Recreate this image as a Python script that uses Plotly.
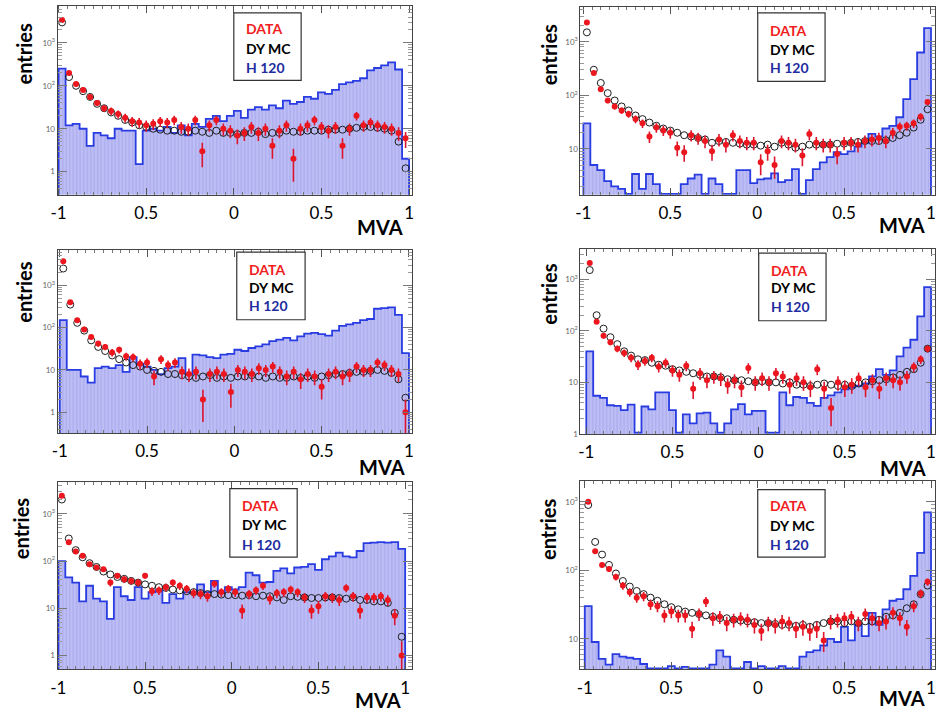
import numpy as np
import plotly.graph_objects as go

# MVA binning: 50 bins from -1 to 1
EDGES = np.linspace(-1.0, 1.0, 51)
CENTERS = 0.5 * (EDGES[:-1] + EDGES[1:])
BIN_W = EDGES[1] - EDGES[0]

X_TICKS = [-1, -0.5, 0, 0.5, 1]
X_TICK_TEXT = ["-1", "0.5", "0", "0.5", "1"]
Y_TICKS = [1, 10, 100, 1000]
Y_TICK_TEXT = ["1", "10", "10<sup>2</sup>", "10<sup>3</sup>"]
LEGEND_TEXT = ["DATA", "DY MC", "H 120"]

# ---- panel 1 ----
p1_h120 = [250, 12, 13, 10, 4, 8, 7, 6, 10, 9, 9, 1.5, 9, 10, 9, 11, 8, 12, 7, 13,
           11, 17, 20, 15, 20, 26, 18, 28, 32, 28, 35, 30, 45, 38, 42, 55, 50, 70, 65, 80,
           110, 120, 130, 150, 230, 260, 300, 350, 240, 2]
p1_data = [3400, 200, 110, 80, 55, 40, 30, 26, 22, 18, 15, 14, 12, 13, 15, 14, 16, 11, 10, 16,
           3, 12, 16, 10, 9, 7, 8, 11, 8, 10, 4, 9, 12, 2, 10, 12, 16, 11, 9, 11,
           4, 10, 20, 12, 14, 12, 11, 10, 8, 6]
p1_dymc = [3000, 160, 100, 75, 55, 38, 30, 24, 20, 16, 14, 12, 11, 10, 9.5, 9, 9, 8.5, 8.5, 9,
           8.5, 8, 9, 8, 8, 7.5, 8, 8, 8.5, 7.5, 8, 8, 9, 8.5, 8.5, 9, 9, 9, 9.5, 9.5,
           9.5, 10, 10.5, 11, 11, 10.5, 10, 9, 5, 1.2]

# ---- panel 2 ----
p2_h120 = [30, 5, 4, 2.5, 2, 1.8, 1.45, 3.4, 1.8, 3.4, 2.2, 1.45, 1.45, 1.45, 2.2, 2.8, 3.3, 1.45, 2.8, 2.2,
           1.45, 1.45, 4, 4, 2.3, 2.7, 2.8, 3.5, 2.4, 2.6, 4.2, 1.45, 2.6, 4.2, 5.6, 7, 8.7, 8, 9, 11,
           13, 19, 17, 24, 27, 39, 85, 200, 630, 1800]
p2_data = [2300, 260, 130, 80, 62, 52, 45, 36, 30, 17, 25, 22, 20, 10.5, 8.7, 18, 16, 14, 9, 15,
           12, 18, 14, 13, 13, 5.6, 9, 5, 14, 13, 12, 7.5, 19, 13, 12, 12, 8, 13, 13, 12,
           14, 15, 16, 14, 20, 26, 27, 30, 40, 75]
p2_dymc = [1500, 300, 170, 110, 80, 62, 52, 42, 36, 31, 27, 24, 22, 20, 18, 17, 16, 15, 13, 14,
           13.5, 13, 12.5, 12, 12, 11.5, 12, 11, 13, 12, 10.5, 11, 12, 12, 12, 12, 12.5, 12.5, 13, 13.5,
           14, 14, 14, 14.5, 16, 18, 20, 25, 35, 55]

# ---- panel 3 ----
p3_h120 = [150, 10, 10, 7, 5, 11, 12, 11, 13, 9, 20, 14, 12, 10, 8, 11, 12, 19, 8, 23,
           22, 20, 19, 23, 24, 30, 28, 33, 36, 40, 48, 52, 57, 50, 62, 72, 75, 70, 65, 85,
           110, 120, 130, 150, 160, 280, 290, 300, 200, 25]
p3_data = [3700, 400, 150, 90, 60, 42, 35, 26, 30, 21, 20, 14, 15, 7, 18, 13, 15, 9, 8, 9,
           2, 8, 9, 8, 3, 10, 9, 8, 11, 10, 12, 9, 7, 9, 6, 8, 7, 4, 8, 9,
           7, 8, 12, 10, 10, 15, 13, 10, 8, 1]
p3_dymc = [2500, 350, 130, 85, 50, 35, 28, 22, 18, 15, 13, 12, 10, 9.5, 9, 8, 8, 7.5, 7, 6.5,
           7, 7.5, 6.5, 7, 6.5, 7, 7, 7.5, 7, 6.5, 7, 6.5, 6.5, 7, 6.5, 7, 6.5, 7, 7.5, 8,
           8, 8.5, 9, 9, 9.5, 10, 9.5, 8.5, 6, 2.2]

# ---- panel 4 ----
p4_h120 = [40, 5.5, 5, 3.6, 3.5, 2.9, 3.7, 1.06, 3.4, 3.0, 6.4, 6.4, 2.9, 1.06, 2.4, 1.6, 2.5, 2.6, 1.6, 1.06,
           1.6, 3.0, 3.8, 2.4, 2.8, 2.8, 1.06, 1.06, 6.4, 3.6, 5.2, 5.0, 4.0, 3.5, 5.0, 5.6, 6.4, 7.3, 8, 8.6,
           9.5, 13, 18, 14, 17, 32, 47, 67, 190, 700]
p4_data = [2050, 150, 80, 60, 45, 37, 30, 22, 26, 30, 20, 24, 17, 14, 21, 7.5, 15, 11, 13, 12,
           9, 11, 8, 19, 10, 12, 10, 15, 13, 9, 12, 10, 8, 18, 7.5, 3.2, 10, 8, 9, 12,
           8, 11, 7.5, 12, 11, 10, 13, 20, 28, 45]
p4_dymc = [1500, 200, 110, 75, 55, 40, 33, 28, 27, 24, 22, 21, 18, 17, 16, 15, 14, 13, 13, 12.5,
           11.5, 11, 11, 10.5, 10, 10.5, 10, 10, 9.5, 10, 9, 9, 8.5, 9, 9.5, 9, 8.5, 9, 8.5, 9.5,
           10, 10.5, 11, 11.5, 12.5, 14, 16, 18, 24, 45]

# ---- panel 5 ----
p5_h120 = [100, 45, 35, 14, 30, 16, 14, 6, 28, 18, 15, 28, 16, 22, 24, 13, 20, 16, 22, 21,
           32, 22, 38, 22, 28, 25, 28, 57, 50, 35, 36, 62, 70, 55, 73, 75, 86, 65, 109, 125,
           150, 125, 120, 163, 240, 245, 250, 245, 250, 180]
p5_data = [2400, 250, 160, 130, 86, 73, 67, 35, 49, 41, 38, 35, 49, 23, 24, 28, 35, 30, 26, 21,
           20, 18, 33, 22, 26, 22, 9, 20, 24, 30, 16, 21, 22, 25, 22, 17, 9, 11, 18, 17,
           15, 27, 18, 9, 17, 17, 18, 15, 7, 1]
p5_dymc = [2000, 300, 170, 120, 90, 75, 60, 52, 46, 42, 38, 35, 32, 30, 28, 27, 25, 24, 23, 22,
           21, 20, 20, 19.5, 19, 19, 18.5, 19, 18, 18.5, 18, 17, 15, 18, 17.5, 17, 16.5, 16.5, 17, 17,
           16.5, 16, 17, 15, 15, 14, 14, 13, 8, 2.5]

# ---- panel 6 ----
p6_h120 = [30, 9, 5.1, 4.2, 6.0, 5.5, 5.3, 5.1, 4.3, 3.7, 3.7, 3.7, 4.0, 3.7, 3.9, 3.7, 3.7, 3.7, 4.2, 6.8,
           5.5, 3.7, 3.7, 4.6, 3.7, 4.0, 3.7, 3.7, 4.0, 3.7, 3.7, 5.5, 6.4, 6.8, 8, 10, 9, 15, 9.5, 16,
           11, 24, 16, 27, 36, 38, 53, 83, 180, 700]
p6_data = [1000, 190, 120, 105, 80, 60, 48, 40, 42, 32, 30, 22, 25, 22, 22, 14, 23, 35, 20, 21,
           17, 19, 20, 19, 16, 13, 17, 16, 18, 17, 14, 15, 13, 14, 9.5, 18, 19, 20, 21, 17,
           23, 20, 17, 18, 24, 20, 15, 30, 46, 68]
p6_dymc = [900, 260, 170, 120, 90, 70, 58, 50, 45, 40, 36, 32, 29, 27, 25, 24, 23, 22, 21, 20,
           20, 19, 18.5, 18, 17.5, 17, 17, 16.5, 16, 16, 15.5, 16, 15, 16, 17, 18, 18, 17, 18, 17,
           18, 18, 19, 21, 22, 24, 28, 32, 45, 60]

W, H = 937, 715


def px(x):
    return x / W


def py(y):
    return 1 - y / H


# page layout of each pad (pixels) and axis ranges
PANELS = [
    dict(h=p1_h120, d=p1_data, m=p1_dymc, box=(51, 409, 6, 196), xr=(-1.006, 1.017), yr=(-0.535, 3.86),
         leg=(229, 297, 13, 81), tx=239, rows=(29, 49, 68), mva=(377, 229), ent=(17, 54)),
    dict(h=p2_h120, d=p2_data, m=p2_dymc, box=(579, 937, 7, 196), xr=(-1.017, 1.023), yr=(0.146, 3.65),
         leg=(758, 826, 13, 82), tx=768, rows=(31, 50, 68), mva=(904, 227), ent=(547, 55)),
    dict(h=p3_h120, d=p3_data, m=p3_dymc, box=(51, 409, 252, 436), xr=(-1.013, 1.018), yr=(-0.49, 3.83),
         leg=(232, 301, 254, 322), tx=242, rows=(271, 290, 308), mva=(379, 470), ent=(17, 294)),
    dict(h=p4_h120, d=p4_data, m=p4_dymc, box=(579, 937, 251, 437), xr=(-1.034, 1.023), yr=(0.0, 3.58),
         leg=(759, 827, 255, 323), tx=769, rows=(272, 290, 309), mva=(905, 471), ent=(547, 296)),
    dict(h=p5_h120, d=p5_data, m=p5_dymc, box=(51, 409, 485, 674), xr=(-1.005, 1.040), yr=(-0.29, 3.68),
         leg=(225, 293, 492, 561), tx=235, rows=(509, 528, 548), mva=(375, 705), ent=(14, 532)),
    dict(h=p6_h120, d=p6_data, m=p6_dymc, box=(579, 937, 484, 674), xr=(-1.025, 1.023), yr=(0.556, 3.31),
         leg=(758, 826, 493, 561), tx=768, rows=(509, 529, 548), mva=(904, 703), ent=(547, 533)),
]

FILL = "rgb(190,190,246)"
STRIPE = "rgb(150,150,228)"
BLUE = "rgb(40,60,225)"
RED = "rgb(236,22,30)"
RED_ERR = "rgb(220,20,45)"
LEG_COLORS = ["rgb(240,30,30)", "black", "rgb(30,45,160)"]
FONT = "Lato"

y_minor = [k * 10 ** e for e in range(-1, 4) for k in range(2, 10)]
x_minor = [round(v, 3) for v in np.arange(-1.0, 1.0001, 0.05)]

fig = go.Figure()
shapes, annotations = [], []
layout_axes = {}

for i, p in enumerate(PANELS, start=1):
    xa = "x" if i == 1 else f"x{i}"
    ya = "y" if i == 1 else f"y{i}"
    h = np.array(p["h"], dtype=float)
    d = np.array(p["d"], dtype=float)
    m = np.array(p["m"], dtype=float)
    floor = 10 ** (p["yr"][0] - 1)

    # H 120 signal: hatched fill plus step outline
    fig.add_trace(go.Bar(
        x=CENTERS, y=h, width=BIN_W, xaxis=xa, yaxis=ya,
        marker=dict(color=FILL, line=dict(width=0),
                    pattern=dict(shape="|", fgcolor=STRIPE, bgcolor=FILL, size=3.5, solidity=0.35)),
        hoverinfo="skip"))
    step_x = [EDGES[0]] + list(EDGES[:-1]) + [EDGES[-1], EDGES[-1]]
    step_y = [floor] + list(h) + [h[-1], floor]
    fig.add_trace(go.Scatter(
        x=step_x, y=step_y, mode="lines", xaxis=xa, yaxis=ya,
        line=dict(color=BLUE, width=1.8, shape="hv"), hoverinfo="skip"))

    # DY MC: open circles
    fig.add_trace(go.Scatter(
        x=CENTERS, y=m, mode="markers", xaxis=xa, yaxis=ya,
        marker=dict(symbol="circle-open", size=7, color="rgb(30,30,30)", line=dict(width=1))))

    # DATA: filled circles with Poisson errors
    err = np.sqrt(d)
    err_dn = np.minimum(err, 0.92 * d)
    fig.add_trace(go.Scatter(
        x=CENTERS, y=d, mode="markers", xaxis=xa, yaxis=ya,
        marker=dict(symbol="circle", size=6, color=RED),
        error_y=dict(type="data", array=err, arrayminus=err_dn, color=RED_ERR, thickness=1.6, width=0)))

    x0, x1, y0, y1 = p["box"]
    xkey = "xaxis" if i == 1 else f"xaxis{i}"
    ykey = "yaxis" if i == 1 else f"yaxis{i}"
    layout_axes[xkey] = dict(
        domain=[px(x0), px(x1)], range=list(p["xr"]), anchor=ya,
        tickmode="array", tickvals=X_TICKS, ticktext=X_TICK_TEXT,
        ticks="inside", ticklen=7, tickcolor="#555", tickwidth=1,
        minor=dict(tickmode="array", tickvals=x_minor, ticks="inside", ticklen=3, tickcolor="#777"),
        showline=True, linecolor="#444", linewidth=1, mirror="ticks",
        showgrid=False, zeroline=False,
        tickfont=dict(family=FONT, size=17, color="black"), ticklabelstandoff=3)
    layout_axes[ykey] = dict(
        domain=[py(y1), py(y0)], type="log", range=list(p["yr"]), anchor=xa,
        tickmode="array", tickvals=Y_TICKS, ticktext=Y_TICK_TEXT,
        ticks="inside", ticklen=9, tickcolor="#777", tickwidth=1,
        minor=dict(tickmode="array", tickvals=y_minor, ticks="inside", ticklen=4, tickcolor="#999"),
        showline=True, linecolor="#444", linewidth=1, mirror="ticks",
        showgrid=False, zeroline=False,
        tickfont=dict(family=FONT, size=8, color="#666"))

    # legend box
    lx0, lx1, ly0, ly1 = p["leg"]
    shapes.append(dict(type="rect", xref="paper", yref="paper",
                       x0=px(lx0), x1=px(lx1), y0=py(ly1), y1=py(ly0),
                       line=dict(color="#333", width=1.2), fillcolor="white", layer="above"))
    for txt, col, ry in zip(LEGEND_TEXT, LEG_COLORS, p["rows"]):
        annotations.append(dict(text=f"<b>{txt}</b>", xref="paper", yref="paper",
                                x=px(p["tx"]), y=py(ry), xanchor="left", yanchor="middle",
                                showarrow=False, font=dict(family=FONT, size=14, color=col)))

    annotations.append(dict(text="<b>MVA</b>", xref="paper", yref="paper",
                            x=px(p["mva"][0]), y=py(p["mva"][1]), xanchor="center", yanchor="middle",
                            showarrow=False, font=dict(family=FONT, size=20, color="black")))
    annotations.append(dict(text="<b>entries</b>", xref="paper", yref="paper",
                            x=px(p["ent"][0]), y=py(p["ent"][1]), xanchor="center", yanchor="middle",
                            textangle=-90, showarrow=False, font=dict(family=FONT, size=20, color="black")))

fig.update_layout(
    width=W, height=H, margin=dict(l=0, r=0, t=0, b=0),
    paper_bgcolor="white", plot_bgcolor="white",
    showlegend=False, bargap=0,
    shapes=shapes, annotations=annotations,
    **layout_axes)

fig.write_html("out.html")
